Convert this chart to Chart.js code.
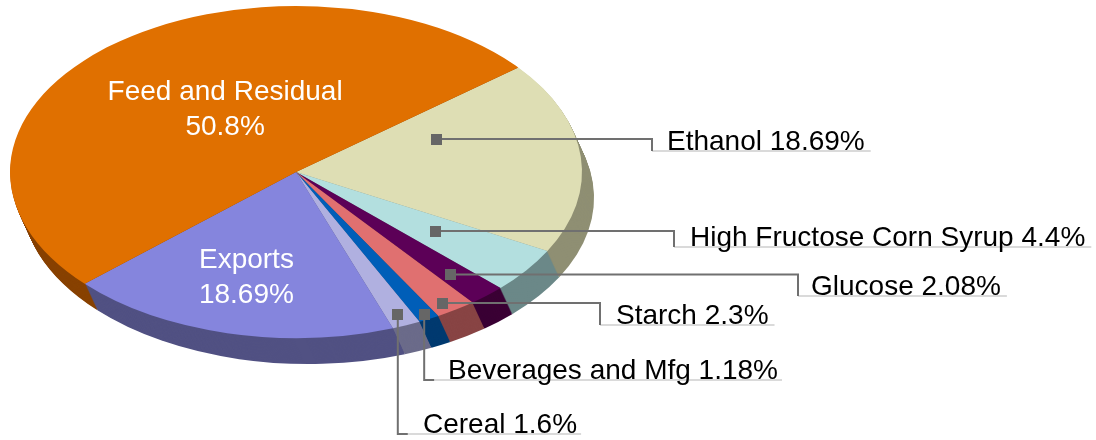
<!DOCTYPE html>
<html>
<head>
<meta charset="utf-8">
<style>
html,body{margin:0;padding:0;background:#ffffff;}
#wrap{position:relative;width:1096px;height:440px;}
canvas{display:block;}
</style>
<script src="https://cdn.jsdelivr.net/npm/chart.js@4/dist/chart.umd.min.js"></script>
</head>
<body>
<div id="wrap"><canvas id="c" width="1096" height="440"></canvas></div>
<script>
// ---- data ----
const categories = ['Ethanol', 'High Fructose Corn Syrup', 'Glucose', 'Starch', 'Beverages and Mfg', 'Cereal', 'Exports', 'Feed and Residual'];
const shares = [18.69, 4.4, 2.08, 2.3, 1.18, 1.6, 18.69, 50.8];
const shareLabels = ['18.69%', '4.4%', '2.08%', '2.3%', '1.18%', '1.6%', '18.69%', '50.8%'];

// ---- styles ----
const topColors  = ['#DEDEB4', '#B3DFDF', '#5C0057', '#E07070', '#005EB8', '#B0B0E0', '#8585DD', '#E07000'];
const sideColors = ['#8F8F73', '#6B8888', '#3A0034', '#884444', '#003A70', '#6B6B8A', '#515183', '#884200'];

// ellipse projection of the pie (3D look)
const E = {cx: 296, cy: 172, rx: 286, ry: 166, dx: 12, dy: 26};

// label layout
const labelLayout = [
  {type: 'elbow', angOff: -16.7, rf: 0.53, elbowX: 652, lineY: 151, textX: 667},
  {type: 'elbow', angOff: -0.4, rf: 0.605, elbowX: 674, lineY: 247, textX: 690},
  {type: 'elbow', angOff: 0.7, rf: 0.82, elbowX: 798, lineY: 296, textX: 811},
  {type: 'elbow', angOff: 1.1, rf: 0.94, elbowX: 600, lineY: 325, textX: 616},
  {type: 'drop', angOff: 0.2, rf: 0.97, lineY: 380, textX: 448},
  {type: 'drop', angOff: 0.2, rf: 0.93, lineY: 434, textX: 423},
  {type: 'inside', angOff: 1.7, rf: 0.644},
  {type: 'inside', angOff: 8.4, rf: 0.464}
];
const FONT = '28px "Liberation Sans", Arial, sans-serif';

function ellPoint(angle, rf) {
  return {x: E.cx + E.rx * rf * Math.cos(angle), y: E.cy + E.ry * rf * Math.sin(angle)};
}

const pie3d = {
  id: 'pie3d',
  beforeDatasetsDraw(chart) {
    const ctx = chart.ctx;
    const arcs = chart.getDatasetMeta(0).data;
    const a0 = arcs[0];
    const r = a0.outerRadius, x0 = a0.x, y0 = a0.y;
    const steps = E.dy;
    for (let k = steps; k >= 1; k--) {
      const ox = E.dx * k / steps, oy = E.dy * k / steps;
      arcs.forEach((arc, i) => {
        ctx.save();
        ctx.translate(E.cx + ox, E.cy + oy);
        ctx.scale(E.rx / r, E.ry / r);
        ctx.beginPath();
        ctx.moveTo(0, 0);
        ctx.arc(0, 0, r, arc.startAngle, arc.endAngle);
        ctx.closePath();
        ctx.fillStyle = sideColors[i];
        ctx.fill();
        ctx.restore();
      });
    }
    ctx.save();
    ctx.translate(E.cx, E.cy);
    ctx.scale(E.rx / r, E.ry / r);
    ctx.translate(-x0, -y0);
  },
  afterDatasetsDraw(chart) {
    chart.ctx.restore();
  },
  afterDraw(chart) {
    const ctx = chart.ctx;
    const arcs = chart.getDatasetMeta(0).data;
    ctx.save();
    ctx.font = FONT;
    arcs.forEach((arc, i) => {
      const L = labelLayout[i];
      const mid = (arc.startAngle + arc.endAngle) / 2 + L.angOff * Math.PI / 180;
      const p = ellPoint(mid, L.rf);
      if (L.type === 'inside') {
        ctx.fillStyle = '#FFFFFF';
        ctx.textAlign = 'center';
        ctx.textBaseline = 'alphabetic';
        ctx.fillText(categories[i], p.x, p.y - 7);
        ctx.fillText(shareLabels[i], p.x, p.y + 28);
        return;
      }
      const text = categories[i] + ' ' + shareLabels[i];
      const tw = ctx.measureText(text).width;
      ctx.lineCap = 'butt';
      if (L.type === 'elbow') {
        // light underline
        ctx.strokeStyle = '#DADADA';
        ctx.lineWidth = 2;
        ctx.beginPath();
        ctx.moveTo(L.elbowX, L.lineY);
        ctx.lineTo(L.textX + tw + 6, L.lineY);
        ctx.stroke();
        // leader
        ctx.strokeStyle = '#707070';
        ctx.lineWidth = 2;
        ctx.beginPath();
        ctx.moveTo(p.x, p.y);
        ctx.lineTo(L.elbowX, p.y);
        ctx.lineTo(L.elbowX, L.lineY);
        ctx.stroke();
      } else {
        ctx.strokeStyle = '#DADADA';
        ctx.lineWidth = 2;
        ctx.beginPath();
        ctx.moveTo(p.x + 10, L.lineY);
        ctx.lineTo(L.textX + tw + 4, L.lineY);
        ctx.stroke();
        ctx.strokeStyle = '#707070';
        ctx.lineWidth = 2;
        ctx.beginPath();
        ctx.moveTo(p.x, p.y);
        ctx.lineTo(p.x, L.lineY);
        ctx.lineTo(p.x + 10, L.lineY);
        ctx.stroke();
      }
      ctx.fillStyle = '#666666';
      ctx.fillRect(Math.round(p.x - 5.5), Math.round(p.y - 5.5), 11, 11);
      ctx.fillStyle = '#000000';
      ctx.textAlign = 'left';
      ctx.textBaseline = 'alphabetic';
      ctx.fillText(text, L.textX, L.lineY - 1);
    });
    ctx.restore();
  }
};

new Chart(document.getElementById('c'), {
  type: 'pie',
  data: {
    labels: categories,
    datasets: [{
      data: shares,
      backgroundColor: topColors,
      borderWidth: 0,
      clip: false
    }]
  },
  options: {
    responsive: false,
    animation: false,
    events: [],
    rotation: 51,
    plugins: {
      legend: {display: false},
      tooltip: {enabled: false}
    }
  },
  plugins: [pie3d]
});
</script>
</body>
</html>
